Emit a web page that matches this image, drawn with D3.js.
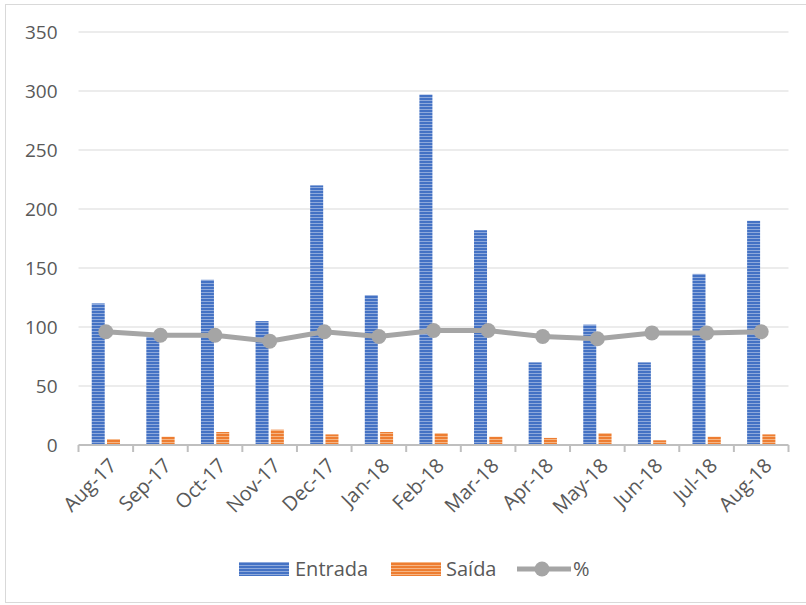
<!DOCTYPE html>
<html>
<head>
<meta charset="utf-8">
<script src="https://cdn.jsdelivr.net/npm/d3@7"></script>
<style>
  body { margin: 0; background: #fff; }
  svg { display: block; font-family: "Open Sans", "Noto Sans", sans-serif; }
</style>
</head>
<body>
<div id="chart"></div>
<script>
// chart values
const months = ["Aug-17", "Sep-17", "Oct-17", "Nov-17", "Dec-17", "Jan-18", "Feb-18",
                "Mar-18", "Apr-18", "May-18", "Jun-18", "Jul-18", "Aug-18"];
const entrada = [120, 92, 140, 105, 220, 127, 297, 182, 70, 102, 70, 145, 190];
const saida = [5, 7, 11, 13, 9, 11, 10, 7, 6, 10, 4, 7, 9];
const percent = [96, 93, 93, 88, 96, 92, 97, 97, 92, 90, 95, 95, 96];
const yTicks = [0, 50, 100, 150, 200, 250, 300, 350];
const seriesNames = ["Entrada", "Saída", "%"];

const width = 806, height = 605;
const margin = {top: 32, right: 17.5, bottom: 160, left: 78.5};
const innerW = width - margin.left - margin.right;
const innerH = height - margin.top - margin.bottom;

const svg = d3.select("#chart").append("svg")
    .attr("width", width)
    .attr("height", height);

// striped fills like the original
const defs = svg.append("defs");
function stripes(id, base, light) {
    const p = defs.append("pattern")
        .attr("id", id)
        .attr("patternUnits", "userSpaceOnUse")
        .attr("width", 6)
        .attr("height", 3);
    p.append("rect").attr("width", 6).attr("height", 3).attr("fill", base);
    p.append("rect").attr("y", 2).attr("width", 6).attr("height", 1).attr("fill", light);
}
stripes("blue", "#4472C4", "#8EA9DB");
stripes("orange", "#ED7D31", "#F5B584");

// outer frame
svg.append("rect")
    .attr("x", 5.5).attr("y", 4.5)
    .attr("width", width).attr("height", 598)
    .attr("fill", "none")
    .attr("stroke", "#D9D9D9");

const g = svg.append("g")
    .attr("transform", `translate(${margin.left},${margin.top})`);

const xScale = d3.scaleBand()
    .domain(months)
    .range([0, innerW])
    .padding(0);

const xSub = d3.scaleBand()
    .domain([0, 1])
    .range([xScale.bandwidth() * 0.242, xScale.bandwidth() * 0.76])
    .paddingInner(0.15);

const yScale = d3.scaleLinear()
    .domain([0, 350])
    .range([innerH, 0]);

// gridlines
g.selectAll(".grid")
    .data(yTicks.filter(d => d > 0))
    .join("line")
    .attr("class", "grid")
    .attr("x1", 0).attr("x2", innerW)
    .attr("y1", d => yScale(d)).attr("y2", d => yScale(d))
    .attr("stroke", "#D9D9D9")
    .attr("stroke-width", 1);

// y axis labels
const yAxis = d3.axisLeft(yScale).tickValues(yTicks).tickSize(0).tickPadding(21);
g.append("g")
    .call(yAxis)
    .call(a => a.select(".domain").remove())
    .call(a => a.selectAll("text")
        .attr("fill", "#595959")
        .attr("font-size", 19)
        .attr("font-family", "Open Sans"));

// bars
const bars = g.selectAll(".month")
    .data(months)
    .join("g")
    .attr("class", "month")
    .attr("transform", d => `translate(${xScale(d)},0)`);

bars.append("rect")
    .attr("x", xSub(0))
    .attr("width", xSub.bandwidth())
    .attr("y", (d, i) => yScale(entrada[i]))
    .attr("height", (d, i) => innerH - yScale(entrada[i]))
    .attr("fill", "url(#blue)");

bars.append("rect")
    .attr("x", xSub(1))
    .attr("width", xSub.bandwidth())
    .attr("y", (d, i) => yScale(saida[i]))
    .attr("height", (d, i) => innerH - yScale(saida[i]))
    .attr("fill", "url(#orange)");

// x axis with ticks between categories
const xAxisGroup = g.append("g")
    .attr("transform", `translate(0,${innerH})`);

xAxisGroup.append("line")
    .attr("x1", 0).attr("x2", innerW)
    .attr("stroke", "#BFBFBF")
    .attr("stroke-width", 2);

xAxisGroup.selectAll(".tick-mark")
    .data(months.concat(["end"]))
    .join("line")
    .attr("class", "tick-mark")
    .attr("x1", (d, i) => i * xScale.step()).attr("x2", (d, i) => i * xScale.step())
    .attr("y1", 0).attr("y2", 7)
    .attr("stroke", "#BFBFBF")
    .attr("stroke-width", 2);

xAxisGroup.selectAll(".xlabel")
    .data(months)
    .join("text")
    .attr("class", "xlabel")
    .attr("transform", d => `translate(${xScale(d) + xScale.bandwidth() / 2 + 7},${17}) rotate(-45)`)
    .attr("text-anchor", "end")
    .attr("dy", "0.35em")
    .attr("fill", "#595959")
    .attr("font-size", 20)
    .text(d => d);

// percentage line
const line = d3.line()
    .x((d, i) => xScale(months[i]) + xScale.bandwidth() / 2)
    .y(d => yScale(d));

g.append("path")
    .datum(percent)
    .attr("fill", "none")
    .attr("stroke", "#A5A5A5")
    .attr("stroke-width", 5)
    .attr("d", line);

g.selectAll(".dot")
    .data(percent)
    .join("circle")
    .attr("class", "dot")
    .attr("cx", (d, i) => xScale(months[i]) + xScale.bandwidth() / 2)
    .attr("cy", d => yScale(d))
    .attr("r", 7.5)
    .attr("fill", "#A5A5A5");

// legend
const legend = svg.append("g").attr("transform", "translate(0,569)");

legend.append("rect")
    .attr("x", 239).attr("y", -7).attr("width", 50).attr("height", 14)
    .attr("fill", "url(#blue)");
legend.append("rect")
    .attr("x", 391).attr("y", -7).attr("width", 50).attr("height", 14)
    .attr("fill", "url(#orange)");
legend.append("line")
    .attr("x1", 517).attr("x2", 571).attr("y1", 0).attr("y2", 0)
    .attr("stroke", "#A5A5A5").attr("stroke-width", 5);
legend.append("circle")
    .attr("cx", 542).attr("cy", 0).attr("r", 7.5)
    .attr("fill", "#A5A5A5");

legend.selectAll(".ltext")
    .data(seriesNames)
    .join("text")
    .attr("class", "ltext")
    .attr("x", (d, i) => [295, 446, 573][i])
    .attr("y", 0)
    .attr("dy", "0.35em")
    .attr("fill", "#595959")
    .attr("font-size", 20)
    .text(d => d);
</script>
</body>
</html>
